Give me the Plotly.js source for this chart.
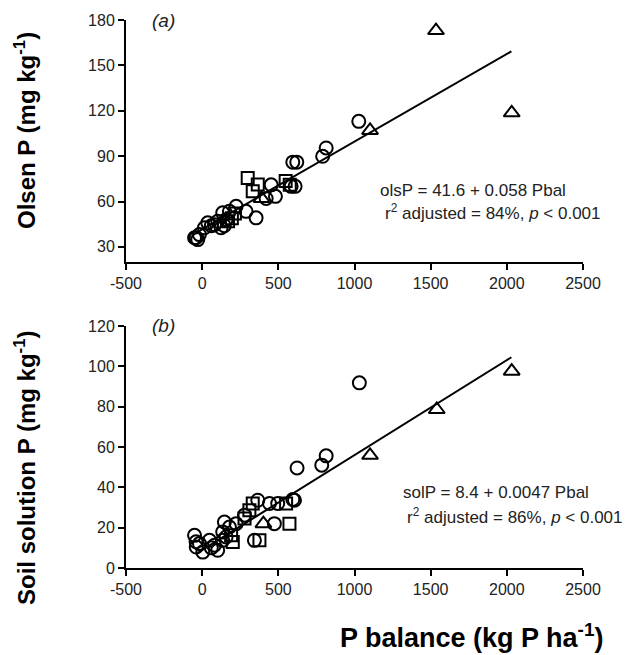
<!DOCTYPE html>
<html><head><meta charset="utf-8">
<script src="https://cdn.plot.ly/plotly-3.0.1.min.js"></script>
<style>html,body{margin:0;padding:0;background:#fff;}#chart{width:638px;height:655px;}</style>
</head><body><div id="chart"></div>
<script>
// Panel (a): Olsen P vs P balance
const olsenCircleX = [1028, 814, 791, 595, 621, 584, 610, 453, 481, 420, 354, 288, 223, 179, 135, 157, 102, 124, 81, 37, 15, -18, -50, -29, -40, 60, 145];
const olsenCircleY = [113, 95.4, 89.9, 86, 86, 70, 70, 71, 63.4, 62, 49.2, 53.5, 56.8, 53.5, 52.5, 48, 46.9, 42.6, 44.7, 45.9, 42.6, 38.1, 36, 34.8, 36, 44, 44];
const olsenSquareX = [299, 332, 365, 548, 575, 195, 170, 215];
const olsenSquareY = [75.6, 66.7, 71.2, 73.5, 71, 49, 47, 52];
const olsenTriX = [1535, 2032, 1102, 390];
const olsenTriY = [173, 118.6, 107, 62];
const olsenLineX = [-40, 2030];
const olsenLineY = [39.3, 159.3];

// Panel (b): Soil solution P vs P balance
const solCircleX = [1032, 623, 814, 785, 595, 606, 442, 496, 365, 474, 343, 278, 146, 223, 179, 135, -50, -39, 4, 48, 81, 102, 135, -18, 157, -40, 60];
const solCircleY = [91.8, 49.6, 55.6, 51, 34, 33.6, 32, 32, 33.6, 22, 13.7, 26.2, 22.8, 22, 20.3, 17.9, 16.2, 10.4, 7.9, 13.7, 11.3, 8.8, 13.7, 12.1, 15.4, 13, 10];
const solSquareX = [332, 551, 573, 376, 310, 278, 201, 190];
const solSquareY = [32, 32, 22, 13.7, 28.6, 24.6, 12.9, 16.2];
const solTriX = [2032, 1540, 1102, 402];
const solTriY = [97.6, 78.6, 55.9, 22];
const solLineX = [-40, 2030];
const solLineY = [7, 104.5];

const xTickVals = [-500, 0, 500, 1000, 1500, 2000, 2500];
const xTickText = ['-500', '0', '500', '1000', '1500', '2000', '2500'];
const olsenTickVals = [30, 60, 90, 120, 150, 180];
const solTickVals = [0, 20, 40, 60, 80, 100, 120];

const FONT = "Arial, 'Liberation Sans', sans-serif";
function mk(x, y, sym, size, xa, ya) {
  return {x: x, y: y, type: 'scatter', mode: 'markers', xaxis: xa, yaxis: ya,
    marker: {symbol: sym, size: size, color: 'rgba(255,255,255,0)', line: {color: '#000', width: 2}},
    showlegend: false, hoverinfo: 'skip'};
}
function ln(x, y, xa, ya) {
  return {x: x, y: y, type: 'scatter', mode: 'lines', xaxis: xa, yaxis: ya,
    line: {color: '#000', width: 2}, showlegend: false, hoverinfo: 'skip'};
}
const traces = [
  ln(olsenLineX, olsenLineY, 'x', 'y'),
  mk(olsenCircleX, olsenCircleY, 'circle', 13, 'x', 'y'),
  mk(olsenSquareX, olsenSquareY, 'square', 12, 'x', 'y'),
  mk(olsenTriX, olsenTriY, 'triangle-up', 14, 'x', 'y'),
  ln(solLineX, solLineY, 'x2', 'y2'),
  mk(solCircleX, solCircleY, 'circle', 13, 'x2', 'y2'),
  mk(solSquareX, solSquareY, 'square', 12, 'x2', 'y2'),
  mk(solTriX, solTriY, 'triangle-up', 14, 'x2', 'y2')
];
const axCommon = {showgrid: false, zeroline: false, showline: true, linecolor: '#000', linewidth: 2,
  ticks: 'outside', ticklen: 6, tickwidth: 2, tickcolor: '#000',
  tickfont: {family: FONT, size: 16, color: '#222'}};
const layout = {
  width: 638, height: 655,
  margin: {l: 126, r: 55, t: 20, b: 87},
  paper_bgcolor: '#fff', plot_bgcolor: '#fff',
  xaxis: Object.assign({}, axCommon, {domain: [0, 1], range: [-500, 2500], tickvals: xTickVals, ticktext: xTickText, anchor: 'y'}),
  yaxis: Object.assign({}, axCommon, {domain: [0.5584, 1], range: [20, 180], tickvals: olsenTickVals, anchor: 'x'}),
  xaxis2: Object.assign({}, axCommon, {domain: [0, 1], range: [-500, 2500], tickvals: xTickVals, ticktext: xTickText, anchor: 'y2'}),
  yaxis2: Object.assign({}, axCommon, {domain: [0, 0.4416], range: [0, 120], tickvals: solTickVals, anchor: 'x2'}),
  annotations: [
    {xref: 'paper', yref: 'paper', x: 0.052, y: 1.0, text: '<i>(a)</i>', showarrow: false, xanchor: 'left', yanchor: 'middle', font: {family: FONT, size: 19, color: '#222'}},
    {xref: 'paper', yref: 'paper', x: 0.052, y: 0.4434, text: '<i>(b)</i>', showarrow: false, xanchor: 'left', yanchor: 'middle', font: {family: FONT, size: 19, color: '#222'}},
    {xref: 'x', yref: 'y', x: 1155, y: 67, text: 'olsP = 41.6 + 0.058 Pbal', showarrow: false, xanchor: 'left', yanchor: 'middle', font: {family: FONT, size: 17, color: '#222'}},
    {xref: 'x', yref: 'y', x: 1185, y: 53, text: 'r<sup>2</sup> adjusted = 84%, <i>p</i> < 0.001', showarrow: false, xanchor: 'left', yanchor: 'middle', font: {family: FONT, size: 17, color: '#222'}},
    {xref: 'x2', yref: 'y2', x: 1305, y: 37.4, text: 'solP = 8.4 + 0.0047 Pbal', showarrow: false, xanchor: 'left', yanchor: 'middle', font: {family: FONT, size: 17, color: '#222'}},
    {xref: 'x2', yref: 'y2', x: 1330, y: 25.8, text: 'r<sup>2</sup> adjusted = 86%, <i>p</i> < 0.001', showarrow: false, xanchor: 'left', yanchor: 'middle', font: {family: FONT, size: 17, color: '#222'}},
    {xref: 'paper', yref: 'paper', x: -126/457 + 25/457, y: (655-87-131)/548, text: '<b>Olsen P (mg kg<sup>-1</sup>)</b>', textangle: -90, showarrow: false, xanchor: 'center', yanchor: 'middle', font: {family: FONT, size: 24, color: '#000'}},
    {xref: 'paper', yref: 'paper', x: -126/457 + 25/457, y: (655-87-468)/548, text: '<b>Soil solution P (mg kg<sup>-1</sup>)</b>', textangle: -90, showarrow: false, xanchor: 'center', yanchor: 'middle', font: {family: FONT, size: 24, color: '#000'}},
    {xref: 'paper', yref: 'paper', x: (471-126)/457, y: (655-87-636)/548, text: '<b>P balance (kg P ha<sup>-1</sup>)</b>', showarrow: false, xanchor: 'center', yanchor: 'middle', font: {family: FONT, size: 27, color: '#000'}}
  ]
};
Plotly.newPlot('chart', traces, layout, {staticPlot: true, displayModeBar: false});
</script></body></html>
